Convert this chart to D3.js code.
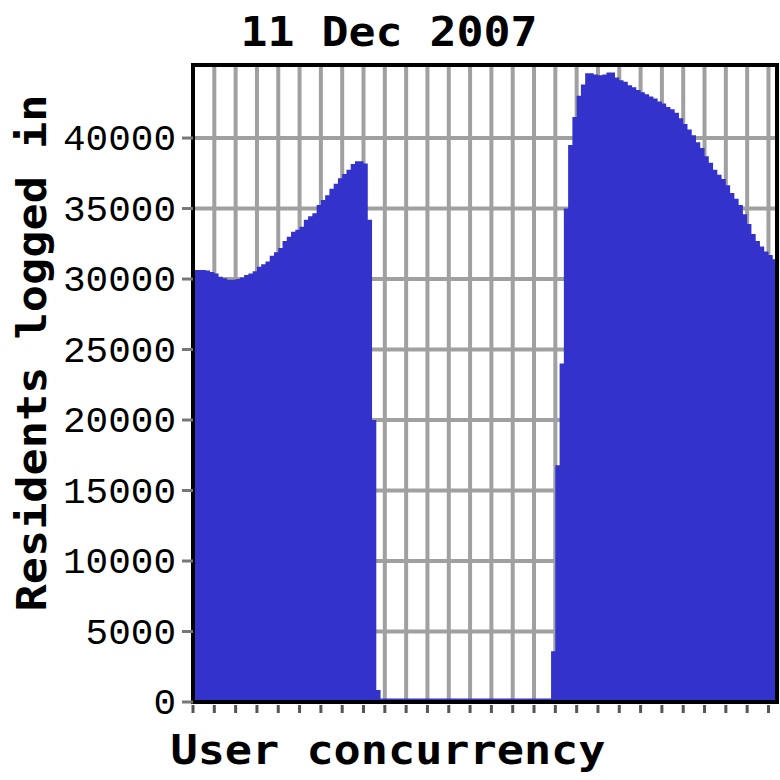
<!DOCTYPE html>
<html>
<head>
<meta charset="utf-8">
<script src="https://cdn.jsdelivr.net/npm/d3@7"></script>
<style>
  body { margin: 0; background: #fff; }
  svg { display: block; }
</style>
</head>
<body>
<div id="viz"></div>
<script>
// residents logged in, one value per sample (137 samples across the day)
const loggedIn = [
  30640, 30640, 30640, 30600, 30500, 30400, 30160, 30050, 29950, 29950,
  30000, 30100, 30280, 30400, 30550, 30870, 31050, 31250, 31650, 31900,
  32200, 32700, 33000, 33350, 33500, 33710, 34200, 34450, 34660, 35250,
  35600, 35950, 36400, 36750, 37150, 37450, 37750, 38150, 38350, 38350,
  38200, 34200, 20000, 850, 250, 250, 250, 250, 250, 250,
  250, 250, 250, 250, 250, 250, 250, 250, 250, 250,
  250, 250, 250, 250, 250, 250, 250, 250, 250, 250,
  250, 250, 250, 250, 250, 250, 250, 250, 250, 250,
  250, 250, 250, 250, 3600, 16800, 24000, 35000, 39500, 41500,
  43000, 43800, 44600, 44600, 44500, 44450, 44500, 44650, 44650, 44300,
  44100, 44000, 43750, 43600, 43400, 43250, 43100, 42950, 42800, 42600,
  42450, 42200, 42050, 41800, 41400, 41000, 40600, 40200, 39700, 39300,
  38700, 38250, 37750, 37400, 37100, 36650, 36100, 35700, 35250, 34600,
  33900, 33200, 32700, 32300, 31950, 31700, 31400
];
const yTicks = [0, 5000, 10000, 15000, 20000, 25000, 30000, 35000, 40000];
const xGrid = d3.range(0, 140, 5);
const title = "11 Dec 2007";
const xTitle = "User concurrency";
const yTitle = "Residents logged in";

const W = 780, H = 780;
const m = {left: 193, right: 777, top: 65, bottom: 702};

const x = d3.scaleLinear().domain([0, loggedIn.length]).range([m.left, m.right]);
const y = d3.scaleLinear().domain([0, 45180]).range([m.bottom, m.top]);

const svg = d3.select("#viz").append("svg")
  .attr("width", W)
  .attr("height", H);

// grid
svg.append("g")
  .attr("stroke", "#a0a0a0")
  .attr("stroke-width", 4)
  .selectAll("line")
  .data(xGrid.filter(d => d > 0))
  .join("line")
    .attr("x1", d => x(d)).attr("x2", d => x(d))
    .attr("y1", m.top).attr("y2", m.bottom);

svg.append("g")
  .attr("stroke", "#a0a0a0")
  .attr("stroke-width", 4)
  .selectAll("line")
  .data(yTicks.filter(d => d > 0))
  .join("line")
    .attr("x1", m.left).attr("x2", m.right)
    .attr("y1", d => y(d)).attr("y2", d => y(d));

// area
const pts = loggedIn.map((v, i) => [i, v]);
pts.push([loggedIn.length, loggedIn[loggedIn.length - 1]]);

const area = d3.area()
  .curve(d3.curveStepAfter)
  .x(d => x(d[0]))
  .y0(y(0))
  .y1(d => y(d[1]));

svg.append("path")
  .datum(pts)
  .attr("fill", "#3333cc")
  .attr("d", area);

// frame
svg.append("rect")
  .attr("x", m.left)
  .attr("y", m.top)
  .attr("width", m.right - m.left)
  .attr("height", m.bottom - m.top)
  .attr("fill", "none")
  .attr("stroke", "#000")
  .attr("stroke-width", 4);

// x ticks below axis
svg.append("g")
  .attr("stroke", "#555")
  .attr("stroke-width", 3)
  .selectAll("line")
  .data(xGrid)
  .join("line")
    .attr("x1", d => x(d)).attr("x2", d => x(d))
    .attr("y1", m.bottom + 3).attr("y2", m.bottom + 11);

// y ticks + labels
const yt = svg.append("g")
  .selectAll("g")
  .data(yTicks)
  .join("g")
    .attr("transform", d => `translate(0,${y(d)})`);

yt.append("line")
  .attr("x1", m.left - 11).attr("x2", m.left)
  .attr("stroke", "#777")
  .attr("stroke-width", 3);

yt.append("text")
  .attr("x", 176)
  .attr("y", 12)
  .attr("text-anchor", "end")
  .attr("font-family", "Liberation Mono, monospace")
  .attr("font-size", 37)
  .attr("textLength", d => String(d).length * 22.6)
  .attr("lengthAdjust", "spacingAndGlyphs")
  .attr("fill", "#000")
  .text(d => d);

// titles
svg.append("text")
  .attr("x", 389)
  .attr("y", 46)
  .attr("text-anchor", "middle")
  .attr("font-family", "DejaVu Sans Mono, monospace")
  .attr("font-weight", "bold")
  .attr("font-size", 41)
  .attr("textLength", 297)
  .attr("lengthAdjust", "spacingAndGlyphs")
  .text(title);

svg.append("text")
  .attr("x", 388)
  .attr("y", 764)
  .attr("text-anchor", "middle")
  .attr("font-family", "DejaVu Sans Mono, monospace")
  .attr("font-weight", "bold")
  .attr("font-size", 41)
  .attr("textLength", 435)
  .attr("lengthAdjust", "spacingAndGlyphs")
  .text(xTitle);

svg.append("text")
  .attr("transform", "translate(46,353) rotate(-90)")
  .attr("text-anchor", "middle")
  .attr("font-family", "DejaVu Sans Mono, monospace")
  .attr("font-weight", "bold")
  .attr("font-size", 41)
  .attr("textLength", 517)
  .attr("lengthAdjust", "spacingAndGlyphs")
  .text(yTitle);
</script>
</body>
</html>
